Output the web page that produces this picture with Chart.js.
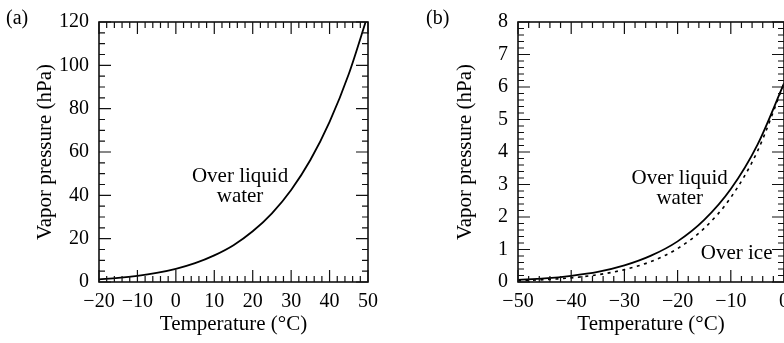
<!DOCTYPE html>
<html>
<head>
<meta charset="utf-8">
<script src="https://cdn.jsdelivr.net/npm/chart.js@4.4.1/dist/chart.umd.min.js"></script>
<style>
  html, body { margin: 0; padding: 0; background: #fff; overflow: hidden; }
  #wrap { position: relative; width: 784px; height: 343px; overflow: hidden; }
  canvas { position: absolute; top: 0; }
  #chart-a { left: 0; }
  #chart-b { left: 420px; }
  .tag { position: absolute; top: 6px; font-family: 'Liberation Serif', serif; font-size: 20px; line-height: 22px; color: #000; }
</style>
</head>
<body>
<div id="wrap">
  <canvas id="chart-a" width="400" height="343"></canvas>
  <canvas id="chart-b" width="400" height="343"></canvas>
  <span class="tag" style="left:6px">(a)</span>
  <span class="tag" style="left:426px">(b)</span>
</div>
<script>
// panel (a): over liquid water, -20..50 °C
const tempA = [-20, -15, -10, -5, 0, 5, 10, 15, 20, 25, 30, 35, 40, 45, 50];
const liquidA = [1.25, 1.91, 2.86, 4.22, 6.11, 8.72, 12.3, 17.0, 23.4, 31.7, 42.5, 56.3, 73.9, 96.0, 123.5];

// panel (b): -50..0 °C, liquid vs ice
const tempB = [-50, -45, -40, -35, -30, -25, -20, -15, -10, -5, 0];
const liquidB = [0.064, 0.11, 0.19, 0.31, 0.51, 0.81, 1.25, 1.91, 2.86, 4.22, 6.11];
const iceB = [0.039, 0.072, 0.128, 0.223, 0.38, 0.63, 1.03, 1.65, 2.60, 4.02, 6.11];

const xTitle = 'Temperature (°C)';
const yTitle = 'Vapor pressure (hPa)';

const serif = 'Liberation Serif';
Chart.defaults.color = '#000';
Chart.defaults.font.family = serif;

const toPoints = (xs, ys) => xs.map((x, i) => ({ x: x, y: ys[i] }));
const minusSign = v => String(v).replace('-', '\u2212');

// inward major/minor ticks on all four sides, the box, and the curve notes
const frameTicks = {
  id: 'frameTicks',
  afterDatasetsDraw(chart, args, opts) {
    const { ctx, chartArea: a, scales: { x, y } } = chart;
    ctx.save();
    ctx.strokeStyle = '#111';
    ctx.lineWidth = 1.2;
    ctx.beginPath();

    const nx = Math.round((x.max - x.min) / opts.xMinor);
    for (let i = 0; i <= nx; i++) {
      const v = x.min + i * opts.xMinor;
      const px = x.getPixelForValue(v);
      const r = v / opts.xMajor;
      const len = Math.abs(r - Math.round(r)) < 1e-6 ? 12 : 6;
      ctx.moveTo(px, a.bottom); ctx.lineTo(px, a.bottom - len);
      ctx.moveTo(px, a.top); ctx.lineTo(px, a.top + len);
    }
    const ny = Math.round((y.max - y.min) / opts.yMinor);
    for (let i = 0; i <= ny; i++) {
      const v = y.min + i * opts.yMinor;
      const py = y.getPixelForValue(v);
      const r = v / opts.yMajor;
      const len = Math.abs(r - Math.round(r)) < 1e-6 ? 12 : 6;
      ctx.moveTo(a.left, py); ctx.lineTo(a.left + len, py);
      ctx.moveTo(a.right, py); ctx.lineTo(a.right - len, py);
    }
    ctx.stroke();

    ctx.lineWidth = 1.6;
    ctx.strokeRect(a.left, a.top, a.right - a.left, a.bottom - a.top);

    ctx.fillStyle = '#000';
    ctx.font = '21px "' + serif + '"';
    ctx.textAlign = 'center';
    ctx.textBaseline = 'middle';
    opts.notes.forEach(n => {
      ctx.fillText(n.text, x.getPixelForValue(n.x), y.getPixelForValue(n.y));
    });
    ctx.restore();
  }
};

function makeOptions(xr, yr, yAxisWidth, rightPad, ticksCfg) {
  return {
    responsive: false,
    animation: false,
    layout: { padding: { top: 15, right: rightPad, bottom: 0, left: 0 } },
    scales: {
      x: {
        type: 'linear',
        min: xr[0], max: xr[1],
        grid: { display: false, drawTicks: false },
        border: { display: false },
        ticks: { stepSize: xr[2], autoSkip: false, maxRotation: 0, padding: 8,
                 font: { size: 20 }, callback: minusSign },
        title: { display: true, text: xTitle, font: { size: 21 }, padding: { top: 0, bottom: 6 } },
        afterFit: s => { s.height = 61; }
      },
      y: {
        type: 'linear',
        min: yr[0], max: yr[1],
        grid: { display: false, drawTicks: false },
        border: { display: false },
        ticks: { stepSize: yr[2], autoSkip: false, padding: 10, font: { size: 20 } },
        title: { display: true, text: yTitle, font: { size: 21 }, padding: { top: 33, bottom: 0 } },
        afterFit: s => { s.width = yAxisWidth; }
      }
    },
    plugins: {
      legend: { display: false },
      tooltip: { enabled: false },
      frameTicks: ticksCfg
    }
  };
}

const lineStyle = { showLine: true, pointRadius: 0, borderColor: '#000', borderWidth: 1.8,
                    cubicInterpolationMode: 'monotone', fill: false };

new Chart(document.getElementById('chart-a'), {
  type: 'scatter',
  data: {
    datasets: [{ ...lineStyle, label: 'Over liquid water', data: toPoints(tempA, liquidA) }]
  },
  options: makeOptions([-20, 50, 10], [0, 120, 20], 99, 32, {
    xMinor: 2, xMajor: 10, yMinor: 5, yMajor: 20,
    notes: [
      { text: 'Over liquid', x: 16.7, y: 48.5 },
      { text: 'water', x: 16.7, y: 39.5 }
    ]
  }),
  plugins: [frameTicks]
});

new Chart(document.getElementById('chart-b'), {
  type: 'scatter',
  data: {
    datasets: [
      { ...lineStyle, label: 'Over liquid water', data: toPoints(tempB, liquidB) },
      { ...lineStyle, label: 'Over ice', borderWidth: 1.6, borderDash: [3, 4.5], data: toPoints(tempB, iceB) }
    ]
  },
  options: makeOptions([-50, 0, 10], [0, 8, 1], 98, 36, {
    xMinor: 2, xMajor: 10, yMinor: 0.2, yMajor: 1,
    notes: [
      { text: 'Over liquid', x: -19.6, y: 3.18 },
      { text: 'water', x: -19.6, y: 2.58 },
      { text: 'Over ice', x: -8.9, y: 0.87 }
    ]
  }),
  plugins: [frameTicks]
});
</script>
</body>
</html>
